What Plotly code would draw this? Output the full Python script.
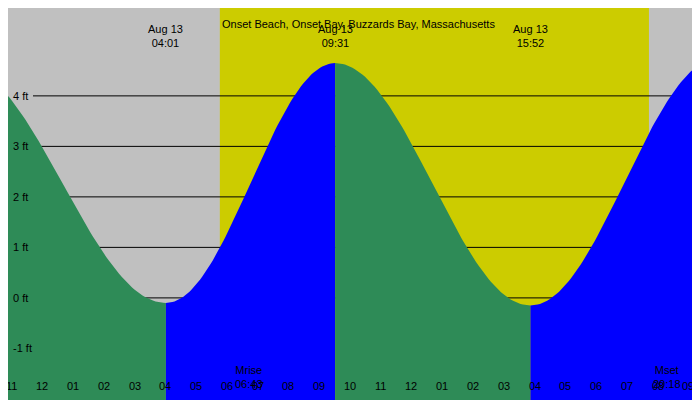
import numpy as np
import plotly.graph_objects as go

# tide extremes: hours from midnight Aug 13, height ft
ext_t = [-2.67, 4.017, 9.517, 15.867, 22.0]
ext_h = [4.6, -0.1, 4.65, -0.15, 4.75]
label_t = [4.017, 9.517, 15.867, 21.85]
label_txt = ["04:01", "09:31", "15:52", "21:51"]
sunrise, sunset = 5.77, 19.72
moon_t = [6.717, 20.3]
moon_lbl = ["Mrise", "Mset"]
moon_txt = ["06:43", "20:18"]
y_ticks = [-1, 0, 1, 2, 3, 4]

X0, X1 = -1.117, 21.64
Y0, Y1 = -2.18, 5.74
fig = go.Figure()
for i in range(len(ext_t) - 1):
    t = np.linspace(ext_t[i], ext_t[i+1], 80)
    a, b = ext_h[i], ext_h[i+1]
    h = (a + b) / 2 + (a - b) / 2 * np.cos(np.pi * (t - ext_t[i]) / (ext_t[i+1] - ext_t[i]))
    col = "#2e8b57" if a > b else "#0000ff"
    xs = np.concatenate([t, [t[-1], t[0]]])
    ys = np.concatenate([h, [Y0, Y0]])
    fig.add_trace(go.Scatter(x=xs, y=ys, fill="toself", fillcolor=col, mode="lines",
                             line=dict(width=0, color=col), hoverinfo="skip", showlegend=False))

F = dict(size=11)
shapes = [dict(type="rect", xref="x", yref="paper", x0=sunrise, x1=sunset, y0=0, y1=1,
               fillcolor="#cccc00", line_width=0, layer="below")]
ann = [dict(text="Onset Beach, Onset Bay, Buzzards Bay, Massachusetts", xref="paper", yref="paper",
            x=0.5, y=1 - 8/400, showarrow=False, font=F)]
for v in y_ticks:
    ann.append(dict(text=f"{v} ft", xref="paper", yref="y", x=3/700, y=v, xanchor="left",
                    showarrow=False, font=F))
    if v >= 0:
        shapes.append(dict(type="line", xref="paper", yref="y", x0=25/700, x1=1, y0=v, y1=v,
                           line=dict(color="black", width=1), layer="below"))
for t, s in zip(label_t, label_txt):
    ann.append(dict(text="Aug 13<br>" + s, xref="x", yref="paper", x=t, y=1 - 13/400,
                    yanchor="top", showarrow=False, font=F))
for t, l, s in zip(moon_t, moon_lbl, moon_txt):
    ann.append(dict(text=l + "<br>" + s, xref="x", yref="paper", x=t, y=1 - 354/400,
                    yanchor="top", showarrow=False, font=F))
    shapes.append(dict(type="line", xref="x", yref="paper", x0=t, x1=t, y0=0, y1=8/400,
                       line=dict(color="red", width=1)))
for hr in range(-1, 22):
    lab = f"{(hr - 1) % 12 + 1:02d}"
    ann.append(dict(text=lab, xref="x", yref="paper", x=hr, y=1 - 386/400,
                    showarrow=False, font=F))
    w = 3 if hr == 0 else 1
    shapes.append(dict(type="line", xref="x", yref="paper", x0=hr, x1=hr, y0=0, y1=8/400,
                       line=dict(color="black", width=w)))

fig.update_layout(width=700, height=400, margin=dict(l=0, r=0, t=0, b=0, pad=0, autoexpand=False),
                  plot_bgcolor="#c0c0c0", paper_bgcolor="#c0c0c0",
                  font=dict(family="Liberation Sans", color="black"),
                  xaxis=dict(range=[X0, X1], visible=False, fixedrange=True),
                  yaxis=dict(range=[Y0, Y1], visible=False, fixedrange=True),
                  shapes=shapes, annotations=ann, showlegend=False)
fig.write_html("out.html")
